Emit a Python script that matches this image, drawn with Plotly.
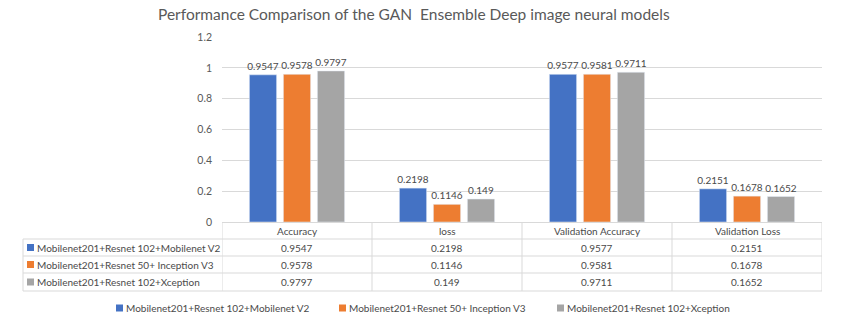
import plotly.graph_objects as go

metrics = ['Accuracy', 'loss', 'Validation Accuracy', 'Validation Loss']
models = ['Mobilenet201+Resnet 102+Mobilenet V2',
          'Mobilenet201+Resnet 50+ Inception V3',
          'Mobilenet201+Resnet 102+Xception']
mobilenet_v2 = [0.9547, 0.2198, 0.9577, 0.2151]
inception_v3 = [0.9578, 0.1146, 0.9581, 0.1678]
xception = [0.9797, 0.149, 0.9711, 0.1652]
series = [mobilenet_v2, inception_v3, xception]
colors = ['#4472C4', '#ED7D31', '#A5A5A5']

W, H = 848, 322
L, R, T, B = 222, 26, 37, 100
pw, ph = W - L - R, H - T - B
grid = '#d9d9d9'
txt = '#4a4a4a'
font = 'Lato'
fs = 10


def px_x(px):
    return (px - L) / pw


def px_y(py):
    return (H - B - py) / ph


fig = go.Figure()
for name, vals, col in zip(models, series, colors):
    fig.add_trace(go.Bar(
        x=metrics, y=vals, name=name, marker_color=col,
        text=[str(v) for v in vals], textposition='outside',
        constraintext='none',
        textfont=dict(size=fs, color=txt, family=font),
        cliponaxis=False,
    ))

# data table under the plot
rows = [222, 239, 256, 273, 291]
table_left = 23
shapes = []
line = dict(color=grid, width=1)
for py in rows[1:]:
    shapes.append(dict(type='line', xref='paper', yref='paper',
                       x0=px_x(table_left), x1=1, y0=px_y(py), y1=px_y(py), line=line))
shapes.append(dict(type='line', xref='paper', yref='paper',
                   x0=px_x(table_left), x1=px_x(table_left),
                   y0=px_y(rows[1]), y1=px_y(rows[-1]), line=line))
for i in range(len(metrics) + 1):
    shapes.append(dict(type='line', xref='x', yref='paper',
                       x0=i - 0.5, x1=i - 0.5, y0=px_y(rows[0]), y1=px_y(rows[-1]), line=line))

tfont = dict(size=fs, color=txt, family=font)
annotations = []
for i, m in enumerate(metrics):
    annotations.append(dict(x=m, xref='x', yref='paper', xanchor='center', yanchor='middle',
                            y=px_y((rows[0] + rows[1]) / 2), text=m, showarrow=False,
                            font=tfont))
for r, (name, vals, col) in enumerate(zip(models, series, colors)):
    yc = px_y((rows[r + 1] + rows[r + 2]) / 2)
    shapes.append(dict(type='rect', xref='paper', yref='paper',
                       x0=px_x(27), x1=px_x(34), y0=yc - 3.5 / ph, y1=yc + 3.5 / ph,
                       fillcolor=col, line=dict(width=0)))
    annotations.append(dict(x=px_x(35), xref='paper', yref='paper', y=yc,
                            text=name, showarrow=False, xanchor='left', yanchor='middle',
                            font=tfont))
    for m, v in zip(metrics, vals):
        annotations.append(dict(x=m, xref='x', yref='paper', y=yc, text=str(v),
                                xanchor='center', yanchor='middle',
                                showarrow=False, font=tfont))

# legend row below the table
legend_y = px_y(308)
legend_x = [116, 339, 557]
for lx, name, col in zip(legend_x, models, colors):
    shapes.append(dict(type='rect', xref='paper', yref='paper',
                       x0=px_x(lx), x1=px_x(lx + 7), y0=legend_y - 3.5 / ph,
                       y1=legend_y + 3.5 / ph, fillcolor=col, line=dict(width=0)))
    annotations.append(dict(x=px_x(lx + 8), xref='paper', yref='paper', y=legend_y,
                            text=name, showarrow=False, xanchor='left', yanchor='middle',
                            font=tfont))

fig.update_layout(
    width=W, height=H,
    margin=dict(l=L, r=R, t=T, b=B),
    paper_bgcolor='white', plot_bgcolor='white',
    title=dict(text='Performance Comparison of the GAN\u00a0 Ensemble Deep image neural models',
               x=0.488, xanchor='center', y=1 - 15 / H, yanchor='middle',
               font=dict(size=15.5, color='#595959', family=font)),
    barmode='group', bargap=0.32, bargroupgap=0.2,
    showlegend=False,
    shapes=shapes, annotations=annotations,
)
fig.update_xaxes(showticklabels=False, showgrid=False, showline=True, linecolor=grid,
                 range=[-0.5, 3.5])
fig.update_yaxes(range=[0, 1.2], dtick=0.2, showgrid=True, gridcolor=grid,
                 zeroline=False, showline=False, ticks='', ticklabelstandoff=9,
                 tickfont=dict(size=10.5, color='#595959', family=font))

fig.write_html('out.html', config={'displayModeBar': False},
               post_script="document.body.style.margin='0px';")
